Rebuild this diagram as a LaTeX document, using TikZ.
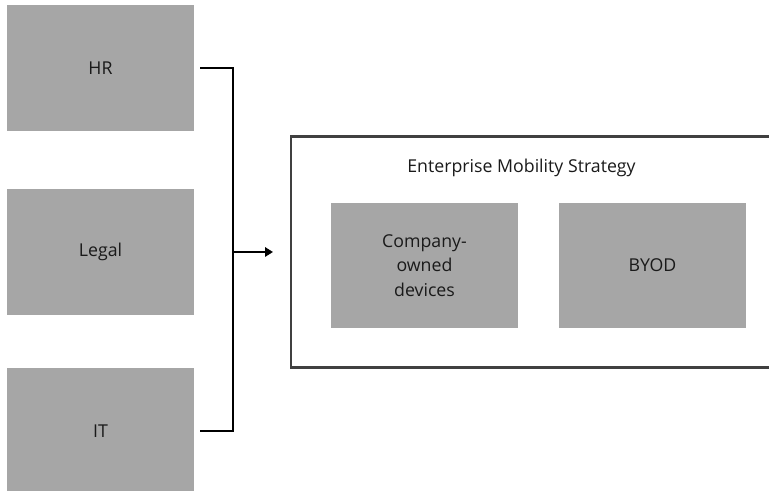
\documentclass[tikz,border=0pt]{standalone}
\usepackage{fontspec}
\setmainfont{Open Sans}
\usetikzlibrary{arrows.meta,calc}
\definecolor{boxgray}{HTML}{A6A6A6}
\definecolor{framegray}{HTML}{404040}
\definecolor{txt}{HTML}{1A1A1A}
\begin{document}
\begin{tikzpicture}[x=0.75pt,y=-0.75pt,
  graybox/.style={fill=boxgray,draw=none,inner sep=0pt,outer sep=0pt,
    minimum width=187*0.75pt,minimum height=126*0.75pt,align=center,
    font=\fontsize{13.3pt}{18.4pt}\selectfont,text=txt},
  frame/.style={draw=framegray,line width=1.6pt,fill=white,inner sep=0pt,outer sep=0pt,
    minimum width=481*0.75pt,minimum height=231*0.75pt},
  conn/.style={draw=black,line width=1.6pt},
  lbl/.style={font=\fontsize{13.3pt}{18.4pt}\selectfont,text=txt,inner sep=0pt}]
\useasboundingbox (0,0) rectangle (769,491);
\node[graybox] (hr) at (100.5,68) {HR};
\node[graybox] (legal) at (100.5,252) {Legal};
\node[graybox] (it) at (100.5,431) {IT};
\node[frame] (ems) at (531.5,252) {};
\node[lbl] (title) at (521.5,168) {Enterprise Mobility Strategy};
\node[graybox,minimum height=125*0.75pt] (cod) at (424.5,265.5) {Company-\\owned\\devices};
\node[graybox,minimum height=125*0.75pt] (byod) at (652.5,265.5) {BYOD};
\coordinate (jtop) at (233,68);
\coordinate (jbot) at (233,431);
\coordinate (jmid) at (233,252);
\draw[conn] ([xshift=6*0.75pt]hr.east) -- (jtop) -- (jbot) -- ([xshift=6*0.75pt]it.east);
\draw[conn,-{Triangle[length=6pt,width=7pt]}] (jmid) -- ([xshift=-18*0.75pt]ems.west |- jmid);
\end{tikzpicture}
\end{document}
